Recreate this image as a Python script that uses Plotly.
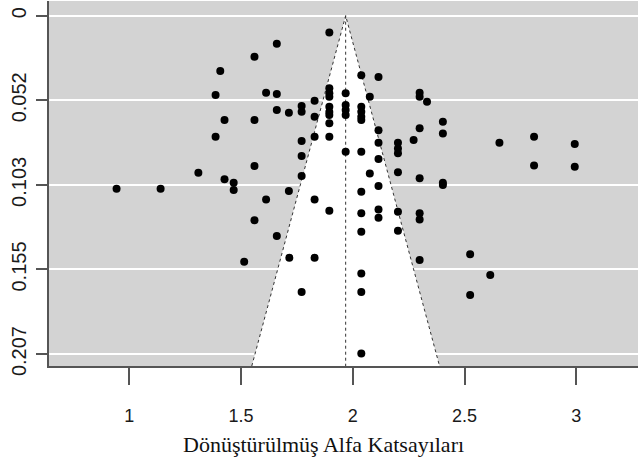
import plotly.graph_objects as go

# Transformed alpha coefficients (x) and their standard errors (y)
effect = [
    0.943, 1.140, 1.309,
    1.386, 1.386, 1.407,
    1.426, 1.426, 1.467, 1.467,
    1.514,
    1.560, 1.560, 1.560, 1.560,
    1.612, 1.612,
    1.660, 1.660, 1.660, 1.660,
    1.714, 1.714, 1.716,
    1.771, 1.771, 1.771, 1.771, 1.771, 1.771,
    1.829, 1.829, 1.829, 1.829, 1.829,
    1.895, 1.895, 1.895, 1.895, 1.895, 1.895, 1.895, 1.895, 1.895, 1.895,
    1.968, 1.968, 1.968, 1.968, 1.968,
    2.038, 2.038, 2.038, 2.038, 2.038, 2.038, 2.038, 2.038, 2.038, 2.038, 2.038, 2.038,
    2.076, 2.076,
    2.115, 2.115, 2.115, 2.115, 2.115, 2.115, 2.115,
    2.202, 2.202, 2.202, 2.202, 2.202, 2.202,
    2.272,
    2.299, 2.299, 2.299, 2.299, 2.299, 2.299, 2.299,
    2.332,
    2.403, 2.403, 2.403, 2.403,
    2.525, 2.525, 2.615,
    2.656, 2.811, 2.811, 2.993, 2.993,
]
std_error = [
    0.1059, 0.1059, 0.0961,
    0.0485, 0.0740, 0.0338,
    0.0638, 0.1001, 0.1022, 0.1067,
    0.1505,
    0.0251, 0.0638, 0.0920, 0.1252,
    0.0471, 0.1124,
    0.0171, 0.0479, 0.0577, 0.1348,
    0.0594, 0.1073, 0.1481,
    0.0553, 0.0587, 0.0767, 0.0859, 0.0981, 0.1691,
    0.0520, 0.0618, 0.0740, 0.1124, 0.1481,
    0.0102, 0.0444, 0.0475, 0.0496, 0.0557, 0.0589, 0.0608, 0.0658, 0.0740, 0.1193,
    0.0475, 0.0547, 0.0577, 0.0608, 0.0832,
    0.0365, 0.0557, 0.0587, 0.0618, 0.0638, 0.0832, 0.1077, 0.1209, 0.1322, 0.1577, 0.1691, 0.2066,
    0.0496, 0.0965,
    0.0375, 0.0700, 0.0777, 0.0877, 0.1042, 0.1185, 0.1236,
    0.0777, 0.0812, 0.0842, 0.0958, 0.1199, 0.1316,
    0.0761,
    0.0471, 0.0496, 0.0689, 0.0995, 0.1209, 0.1246, 0.1495,
    0.0526,
    0.0649, 0.0720, 0.1022, 0.1036,
    0.1460, 0.1709, 0.1587,
    0.0777, 0.0740, 0.0916, 0.0785, 0.0924,
]

pooled_estimate = 1.968
z_crit = 1.96

x_ticks = [1, 1.5, 2, 2.5, 3]
x_tick_labels = ["1", "1.5", "2", "2.5", "3"]
y_ticks = [0, 0.05175, 0.1035, 0.15525, 0.207]
y_tick_labels = ["0", "0.052", "0.103", "0.155", "0.207"]

x_title = "Dönüştürülmüş Alfa Katsayıları"

x_range = [0.6407, 3.276]
y_range = [0.2143, -0.009]
se_bottom = y_range[0]

fig = go.Figure()

# white funnel region
fig.add_trace(go.Scatter(
    x=[pooled_estimate - z_crit * se_bottom, pooled_estimate, pooled_estimate + z_crit * se_bottom],
    y=[se_bottom, 0, se_bottom],
    mode="lines",
    fill="toself",
    fillcolor="white",
    line=dict(color="#333333", width=1, dash="dot"),
    hoverinfo="skip",
    showlegend=False,
))
# vertical reference line
fig.add_trace(go.Scatter(
    x=[pooled_estimate, pooled_estimate],
    y=[0, se_bottom],
    mode="lines",
    line=dict(color="#333333", width=1, dash="dot"),
    hoverinfo="skip",
    showlegend=False,
))
# studies
fig.add_trace(go.Scatter(
    x=effect,
    y=std_error,
    mode="markers",
    marker=dict(color="black", size=8, symbol="circle"),
    showlegend=False,
))

fig.add_annotation(
    text=x_title,
    xref="paper", yref="paper",
    x=(323 - 49) / 589, y=(366 - 444) / 365,
    xanchor="center", yanchor="middle",
    showarrow=False,
    font=dict(family="Liberation Serif", size=22, color="#111111"),
)

fig.update_layout(
    width=638, height=464,
    margin=dict(l=49, r=0, t=1, b=98),
    paper_bgcolor="white",
    plot_bgcolor="#d3d3d3",
    xaxis=dict(
        range=x_range,
        tickvals=x_ticks, ticktext=x_tick_labels,
        ticks="outside", ticklen=17, tickwidth=1.5, tickcolor="#555555",
        ticklabelstandoff=15,
        tickfont=dict(family="Liberation Sans", size=18, color="#1a1a1a"),
        showgrid=False, zeroline=False,
        showline=True, linecolor="#555555", linewidth=2,
    ),
    yaxis=dict(
        range=y_range,
        tickvals=y_ticks, ticktext=y_tick_labels,
        tickangle=-90,
        ticks="outside", ticklen=11, tickwidth=1.5, tickcolor="#555555",
        ticklabelstandoff=2,
        tickfont=dict(family="Liberation Sans", size=20, color="#1a1a1a"),
        showgrid=True, gridcolor="white", gridwidth=2,
        zeroline=False,
        showline=True, linecolor="#555555", linewidth=2,
    ),
)

fig.write_html(
    "out.html",
    config={"displayModeBar": False},
    post_script="document.body.style.margin='0px';",
)
